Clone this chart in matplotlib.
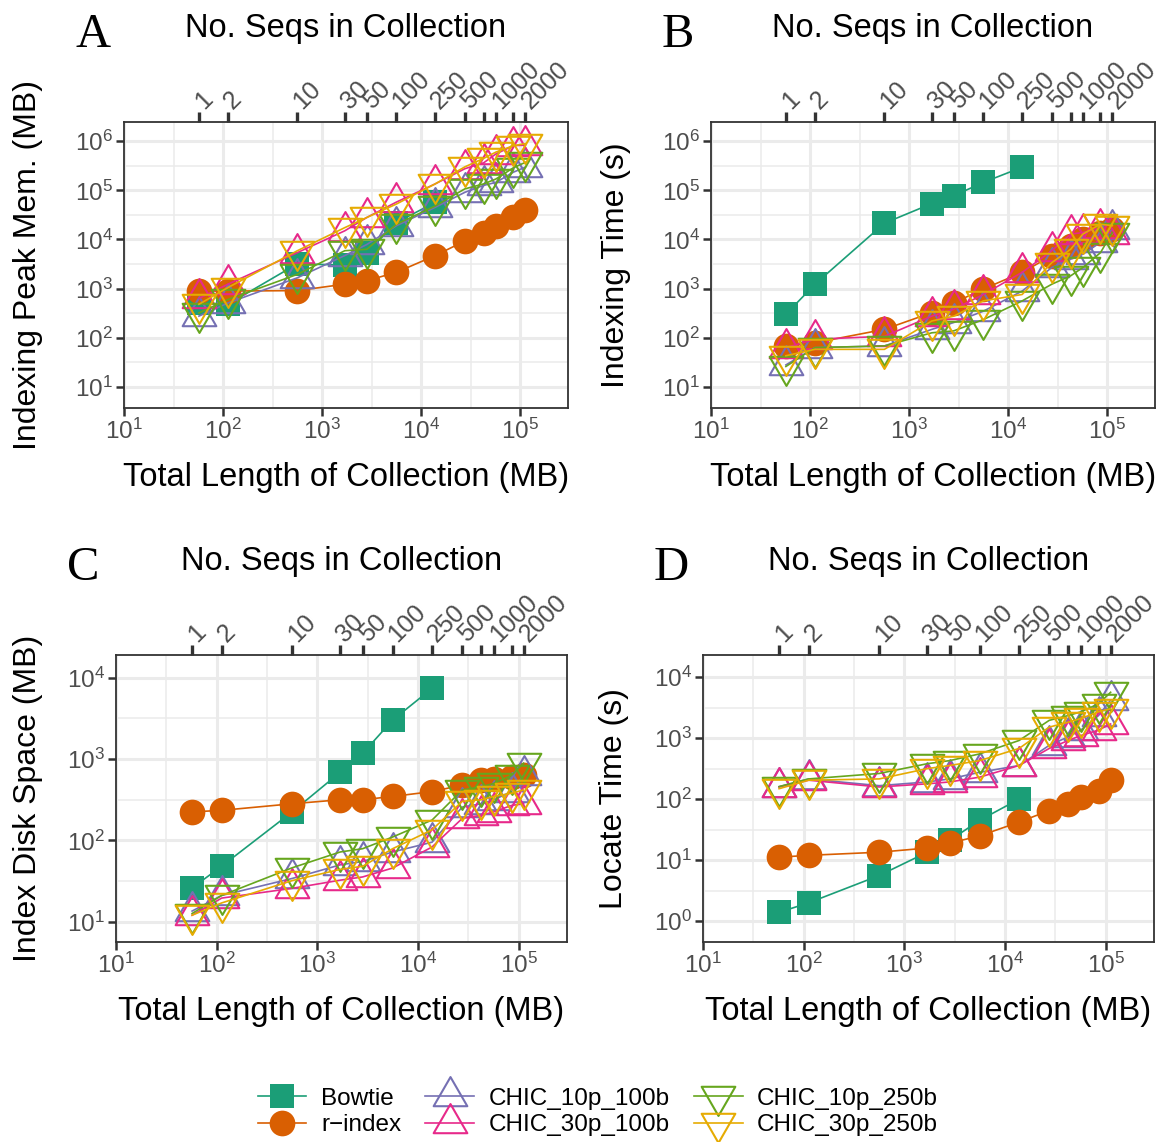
import numpy as np
import matplotlib
matplotlib.use("Agg")
import matplotlib.pyplot as plt
from matplotlib.path import Path
from matplotlib.lines import Line2D
from matplotlib.ticker import LogFormatterMathtext, NullFormatter, FixedLocator

plt.rcParams['font.family'] = ['Liberation Sans', 'DejaVu Sans']
plt.rcParams['mathtext.fontset'] = 'custom'
plt.rcParams['mathtext.rm'] = 'Liberation Sans'

######### data #################
# total collection length (MB) and number of sequences
total_mb = [57, 112, 562, 1690, 2820, 5600, 13800, 27500, 42600, 56600, 85000, 112000]
n_seqs = [1, 2, 10, 30, 50, 100, 250, 500, 750, 1000, 1500, 2000]
top_labels = ['1', '2', '10', '30', '50', '100', '250', '500', '', '1000', '', '2000']

# A: indexing peak memory (MB)
mem_bowtie = [510, 480, 3200, 3000, 5400, 22000, 57000]
mem_rindex = [890, 890, 910, 1230, 1450, 2140, 4700, 9300, 13800, 19000, 28000, 39000]
mem_c10_100 = [275, 510, 1660, 4700, 7900, 19000, 45000, 91000, 126000, 145000, 234000, 295000]
mem_c30_100 = [630, 1230, 5400, 15000, 28000, 57500, 135000, 275000, 363000, 550000, 810000, 830000]
mem_c10_250 = [320, 600, 1950, 5900, 6300, 20400, 48000, 107000, 135000, 170000, 288000, 370000]
mem_c30_250 = [480, 1050, 5900, 17400, 28000, 52500, 135000, 300000, 447000, 600000, 810000, 890000]

# B: indexing time (s)
time_bowtie = [300, 1230, 21400, 53700, 77600, 145000, 295000]
time_rindex = [68, 79, 148, 324, 513, 977, 2140, 4680, 7410, 10000, 13800, 16200]
time_c10_100 = [28, 63, 68, 148, 204, 347, 891, 2690, 3980, 5010, 8710, 16200]
time_c30_100 = [63, 93, 107, 275, 380, 759, 2140, 5890, 12900, 13800, 17400, 12900]
time_c10_250 = [26, 63, 68, 126, 138, 234, 562, 1230, 1820, 2690, 5370, 13800]
time_c30_250 = [43, 58, 58, 219, 275, 562, 759, 3390, 6310, 12900, 20400, 19100]

# C: index disk space (MB)
disk_bowtie = [26, 48, 224, 690, 1175, 3020, 7410]
disk_rindex = [224, 234, 282, 316, 316, 347, 398, 479, 550, 575, 603, 631]
disk_c10_100 = [13.5, 21, 34, 50, 55, 72, 95, 257, 282, 316, 398, 631]
disk_c30_100 = [12, 19.5, 25.7, 32.4, 35.5, 45.7, 83, 186, 204, 224, 269, 282]
disk_c10_250 = [12.6, 21, 46, 72, 79, 110, 178, 417, 457, 501, 631, 891]
disk_c30_250 = [12, 17, 32, 44, 48, 79, 135, 302, 316, 347, 380, 417]

# D: locate time (s)
loc_bowtie = [1.4, 2.0, 5.6, 13.5, 21, 45, 100]
loc_rindex = [11.2, 12, 13.5, 15.8, 19, 25, 42, 65, 83, 107, 138, 204]
loc_c10_100 = [160, 214, 166, 191, 214, 275, 355, 759, 1050, 1350, 2340, 4170]
loc_c30_100 = [158, 204, 158, 178, 191, 229, 355, 676, 912, 1100, 1350, 1700]
loc_c10_250 = [160, 214, 263, 380, 427, 550, 912, 1950, 2340, 2690, 3630, 5620]
loc_c30_250 = [148, 204, 214, 316, 355, 427, 676, 1510, 1820, 2090, 2690, 3020]

names = ['Bowtie', 'r\u2212index', 'CHIC_10p_100b', 'CHIC_30p_100b', 'CHIC_10p_250b', 'CHIC_30p_250b']
colors = ['#1B9E77', '#D95F02', '#7570B3', '#E7298A', '#66A61E', '#E6AB02']

# equilateral triangles centred on centroid (like R pch 2 / 6)
tri_up = Path([(-1, -0.577), (1, -0.577), (0, 1.155), (-1, -0.577)],
              [Path.MOVETO, Path.LINETO, Path.LINETO, Path.CLOSEPOLY])
tri_down = Path([(-1, 0.577), (1, 0.577), (0, -1.155), (-1, 0.577)],
                [Path.MOVETO, Path.LINETO, Path.LINETO, Path.CLOSEPOLY])

styles = [
    dict(marker='s', ms=17, mew=0, mfc=colors[0]),
    dict(marker='o', ms=18.5, mew=0, mfc=colors[1]),
    dict(marker=tri_up, ms=28, mew=1.5, mfc='none'),
    dict(marker=tri_up, ms=28, mew=1.5, mfc='none'),
    dict(marker=tri_down, ms=28, mew=1.5, mfc='none'),
    dict(marker=tri_down, ms=28, mew=1.5, mfc='none'),
]

W, H = 1163, 1142
fig = plt.figure(figsize=(W / 100, H / 100), dpi=100)


def px(x, y):
    return x / W, 1 - y / H


def panel(box, series, ylim, yticks, ylabel, letter, ylab_x):
    left, top, right, bottom = box
    ax = fig.add_axes([left / W, 1 - bottom / H, (right - left) / W, (bottom - top) / H])
    ax.set_xscale('log')
    ax.set_yscale('log')
    ax.set_xlim(10, 10 ** 5.48)
    ax.set_ylim(*ylim)

    for i, ys in enumerate(series):
        xs = total_mb[:len(ys)]
        ax.plot(xs, ys, color=colors[i], lw=1.2, mec=colors[i], **styles[i])

    ax.set_xticks([10.0 ** k for k in range(1, 6)])
    ax.set_yticks(yticks)
    ax.xaxis.set_major_formatter(LogFormatterMathtext())
    ax.yaxis.set_major_formatter(LogFormatterMathtext())
    ax.xaxis.set_minor_locator(FixedLocator([10 ** (k + 0.5) for k in range(0, 6)]))
    ax.yaxis.set_minor_locator(FixedLocator([10 ** (k + 0.5) for k in range(-1, 7)]))
    ax.xaxis.set_minor_formatter(NullFormatter())
    ax.yaxis.set_minor_formatter(NullFormatter())
    ax.tick_params(which='minor', length=0)
    ax.tick_params(which='major', length=6, width=1.8, color='#333333',
                   labelsize=17.5, labelcolor='#4D4D4D', pad=2)
    ax.grid(which='major', color='#EBEBEB', lw=2.2)
    ax.grid(which='minor', color='#EBEBEB', lw=1.1)
    ax.set_axisbelow(True)
    for s in ax.spines.values():
        s.set_color('#333333')
        s.set_linewidth(1.3)

    # top axis: number of sequences
    ax2 = ax.twiny()
    ax2.set_xscale('log')
    ax2.set_xlim(ax.get_xlim())
    ax2.set_xticks(total_mb)
    ax2.set_xticklabels(top_labels, rotation=45, ha='left', va='center',
                        rotation_mode='anchor')
    ax2.xaxis.set_minor_locator(FixedLocator([]))
    ax2.tick_params(which='major', length=7, width=2.4, color='#333333',
                    labelsize=18, labelcolor='#4D4D4D', pad=5)
    for s in ax2.spines.values():
        s.set_visible(False)

    cx = (left + right) / 2
    fig.text(*px(cx, top - 85), 'No. Seqs in Collection', ha='center', va='baseline', fontsize=23.5)
    fig.text(*px(cx, bottom + 78), 'Total Length of Collection (MB)', ha='center',
             va='baseline', fontsize=23.5)
    fig.text(*px(ylab_x, (top + bottom) / 2), ylabel, rotation=90, ha='center',
             va='center', fontsize=23)
    fig.text(*px(left - 49, top - 75), letter, ha='left', va='baseline', fontsize=35,
             family='Liberation Serif')
    return ax


panel((124, 122, 568, 408),
      [mem_bowtie, mem_rindex, mem_c10_100, mem_c30_100, mem_c10_250, mem_c30_250],
      (10 ** 0.57, 10 ** 6.39), [10.0 ** k for k in range(1, 7)],
      'Indexing Peak Mem. (MB)', 'A', 28)
panel((711, 122, 1155, 408),
      [time_bowtie, time_rindex, time_c10_100, time_c30_100, time_c10_250, time_c30_250],
      (10 ** 0.57, 10 ** 6.39), [10.0 ** k for k in range(1, 7)],
      'Indexing Time (s)', 'B', 616)
panel((116, 655, 567, 942),
      [disk_bowtie, disk_rindex, disk_c10_100, disk_c30_100, disk_c10_250, disk_c30_250],
      (10 ** 0.75, 10 ** 4.28), [10.0 ** k for k in range(1, 5)],
      'Index Disk Space (MB)', 'C', 28)
panel((703, 655, 1154, 942),
      [loc_bowtie, loc_rindex, loc_c10_100, loc_c30_100, loc_c10_250, loc_c30_250],
      (10 ** -0.34, 10 ** 4.36), [10.0 ** k for k in range(0, 5)],
      'Locate Time (s)', 'D', 614)

handles = [Line2D([], [], color=colors[i], lw=1.2, mec=colors[i], **styles[i]) for i in range(6)]
fig.legend(handles, names, loc='center', bbox_to_anchor=px(598, 1112), ncol=3,
           frameon=False, fontsize=17.5, handlelength=2.0, handletextpad=0.6,
           columnspacing=1.0, labelspacing=0.2)

fig.savefig('out.png', dpi=100)
